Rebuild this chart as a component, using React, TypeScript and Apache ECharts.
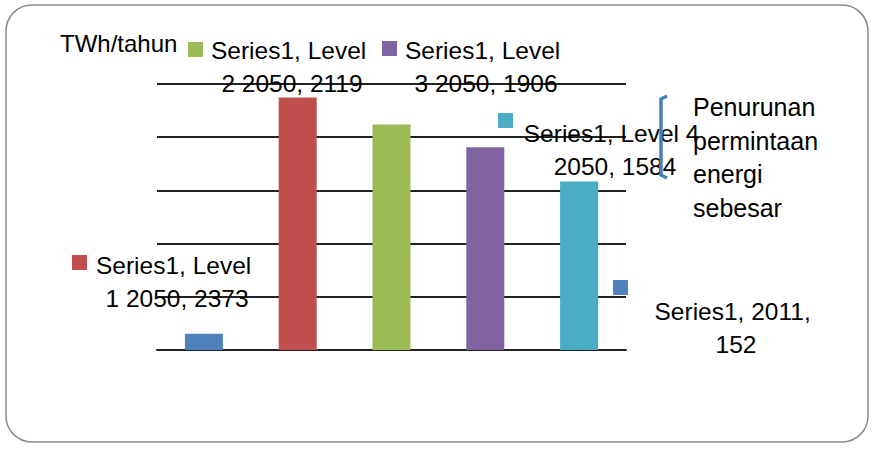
import React, { useEffect, useRef } from "react";
import * as echarts from "echarts";

const categories = ["2011", "Level 1 2050", "Level 2 2050", "Level 3 2050", "Level 4 2050"];
const values = [152, 2373, 2119, 1906, 1584];
const colors = ["#4f81bd", "#c0504d", "#9bbb59", "#8064a2", "#4bacc6"];
const seriesName = "Series1";
const unitLabel = "TWh/tahun";
const noteLines = ["Penurunan", "permintaan", "energi", "sebesar"];

const FONT = "'Liberation Sans', Arial, sans-serif";

// manual label placements (centre x, first line centre y) as in the original
const labelPos = [
  { x: 736, y: 311, w: 168 },
  { x: 177, y: 265, w: 168 },
  { x: 292, y: 50, w: 168 },
  { x: 486, y: 50, w: 168 },
  { x: 615, y: 133, w: 200 },
];
// legend-key squares next to labels
const keyPos = [
  { x: 613, y: 280 },
  { x: 72, y: 255 },
  { x: 188, y: 42 },
  { x: 382, y: 41 },
  { x: 498, y: 113 },
];

export default function App() {
  const ref = useRef<HTMLDivElement>(null);
  useEffect(() => {
    if (!ref.current) return;
    const chart = echarts.init(ref.current, null, { renderer: "svg" });
    const LH = 33;
    chart.setOption({
      animation: false,
      backgroundColor: "#ffffff",
      grid: { left: 157, top: 84, width: 469, height: 266, containLabel: false },
      xAxis: {
        type: "category",
        data: categories,
        axisLine: { show: true, lineStyle: { color: "#222", width: 2 } },
        axisTick: { show: false },
        axisLabel: { show: false },
      },
      yAxis: {
        type: "value",
        min: 0,
        max: 2500,
        interval: 500,
        axisLine: { show: false },
        axisTick: { show: false },
        axisLabel: { show: false },
        splitLine: { show: true, lineStyle: { color: "#222", width: 2 } },
      },
      series: [
        {
          type: "bar",
          name: seriesName,
          barWidth: 38,
          data: values.map((v, i) => ({
            value: v,
            itemStyle: { color: colors[i] },
            label: {
              show: true,
              width: labelPos[i].w,
              overflow: "break",
            },
          })),
          label: {
            show: true,
            formatter: (p: any) => `${seriesName}, ${p.name}, ${p.value}`,
            fontFamily: FONT,
            fontSize: 24.5,
            lineHeight: LH,
            color: "#000",
            align: "center",
          },
          labelLayout: (p: any) => ({
            x: labelPos[p.dataIndex].x,
            y: labelPos[p.dataIndex].y - LH / 2,
            align: "center",
            verticalAlign: "top",
          }),
          z: 3,
        },
      ],
      graphic: [
        {
          type: "rect",
          shape: { x: 6, y: 5, width: 862, height: 437, r: 26 },
          style: { fill: "none", stroke: "#8a8a8a", lineWidth: 1.5 },
          silent: true,
          z: -1,
        },
        {
          type: "text",
          x: 60,
          y: 43,
          style: {
            text: unitLabel,
            font: `24px ${FONT}`,
            fill: "#000",
            textVerticalAlign: "middle",
          },
        },
        ...keyPos.map((k, i) => ({
          type: "rect",
          shape: { x: k.x, y: k.y, width: 15, height: 15 },
          style: { fill: colors[i] },
        })),
        {
          type: "text",
          x: 693,
          y: 90,
          style: {
            text: noteLines.join("\n"),
            font: `25px ${FONT}`,
            lineHeight: 33.7,
            fill: "#000",
          },
        },
        {
          type: "polyline",
          shape: { points: [[667, 96], [661, 99], [661, 175], [667, 178]] },
          style: { stroke: "#4a7ebb", lineWidth: 3.5, fill: "none" },
          z: 10,
        },
      ],
    });
    return () => chart.dispose();
  }, []);
  return (
    <div
      ref={ref}
      style={{ position: "fixed", left: 0, top: 0, width: 873, height: 450 }}
    />
  );
}
